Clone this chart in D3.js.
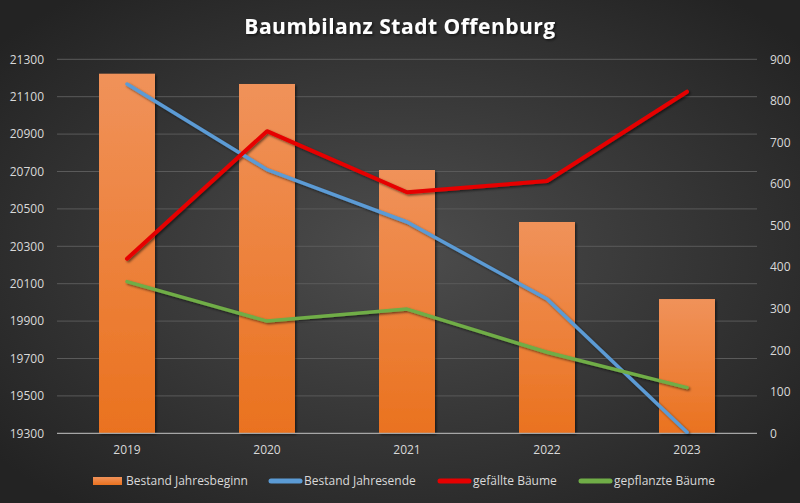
<!DOCTYPE html>
<html><head><meta charset="utf-8">
<script src="https://cdn.jsdelivr.net/npm/d3@7"></script>
<style>html,body{margin:0;padding:0;background:#2a2a2a;}svg{display:block;}</style>
</head><body>
<svg id="c" width="800" height="503"></svg>
<script>
const title = "Baumbilanz Stadt Offenburg";
const years = ["2019","2020","2021","2022","2023"];
const bestandBeginn = [21223, 21168, 20708, 20430, 20018];
const bestandEnde = [21168, 20710, 20430, 20018, 19306];
const gefaellt = [420, 727, 580, 607, 822];
const gepflanzt = [365, 270, 299, 195, 110];
const leftTicks = [19300,19500,19700,19900,20100,20300,20500,20700,20900,21100,21300];
const rightTicks = [0,100,200,300,400,500,600,700,800,900];
const legendLabels = ["Bestand Jahresbeginn","Bestand Jahresende","gefällte Bäume","gepflanzte Bäume"];

const W=800,H=503;
const m={l:57,r:43,t:59.3,b:69.7};
const svg=d3.select("#c");
const defs=svg.append("defs");
const bg=defs.append("radialGradient").attr("id","bg").attr("cx","50%").attr("cy","50%").attr("r","65%");
bg.append("stop").attr("offset","0%").attr("stop-color","#4d4d4d");
bg.append("stop").attr("offset","100%").attr("stop-color","#232323");
const bar=defs.append("linearGradient").attr("id","bar").attr("x1",0).attr("y1",0).attr("x2",0).attr("y2",1);
bar.append("stop").attr("offset","0%").attr("stop-color","#f0925a");
bar.append("stop").attr("offset","100%").attr("stop-color","#ea721f");
const sh=defs.append("filter").attr("id","sh").attr("x","-20%").attr("y","-20%").attr("width","140%").attr("height","140%");
sh.append("feDropShadow").attr("dx",1.5).attr("dy",1.5).attr("stdDeviation",1.2).attr("flood-color","#000").attr("flood-opacity",0.55);

svg.append("rect").attr("width",W).attr("height",H).attr("fill","url(#bg)");

const x=d3.scaleBand().domain(years).range([m.l,W-m.r]).paddingInner(0.6).paddingOuter(0.3);
const xc=d=>x(d)+x.bandwidth()/2;
const yL=d3.scaleLinear().domain([19300,21300]).range([H-m.b,m.t]);
const yR=d3.scaleLinear().domain([0,900]).range([H-m.b,m.t]);

// grid
svg.append("g").selectAll("line").data(leftTicks.slice(1)).join("line")
 .attr("x1",m.l).attr("x2",W-m.r).attr("y1",d=>yL(d)).attr("y2",d=>yL(d))
 .attr("stroke","#5a5a5a").attr("stroke-width",1);

// bars
svg.append("g").attr("filter","url(#sh)").selectAll("rect").data(years).join("rect")
 .attr("x",d=>x(d)).attr("width",x.bandwidth())
 .attr("y",(d,i)=>yL(bestandBeginn[i])).attr("height",(d,i)=>yL(19300)-yL(bestandBeginn[i]))
 .attr("fill","url(#bar)");

// axis line
svg.append("line").attr("x1",m.l).attr("x2",W-m.r).attr("y1",yL(19300)).attr("y2",yL(19300))
 .attr("stroke","#a6a6a6").attr("stroke-width",1.3);

// axes via d3
const font="'Open Sans', 'Liberation Sans', sans-serif";
const la=svg.append("g").attr("transform",`translate(${m.l-13},0)`)
 .call(d3.axisLeft(yL).tickValues(leftTicks).tickSize(0).tickPadding(0).tickFormat(d3.format("d")));
const ra=svg.append("g").attr("transform",`translate(${W-m.r+13},0)`)
 .call(d3.axisRight(yR).tickValues(rightTicks).tickSize(0).tickPadding(0).tickFormat(d3.format("d")));
const xa=svg.append("g").attr("transform",`translate(0,${yL(19300)+10})`)
 .call(d3.axisBottom(x).tickSize(0).tickPadding(0));
[la,ra,xa].forEach(g=>{g.select(".domain").remove();
 g.selectAll("text").attr("fill","#d9d9d9").style("font-family",font).style("font-size","12px");});
xa.selectAll("text").attr("dy","0.9em");

// lines
const mk=(ys,sc)=>d3.line().x((d,i)=>xc(years[i])).y(d=>sc(d))(ys);
const lg=svg.append("g").attr("filter","url(#sh)").attr("fill","none").attr("stroke-linejoin","round").attr("stroke-linecap","round");
lg.append("path").attr("d",mk(bestandEnde,yL)).attr("stroke","#5b9bd5").attr("stroke-width",3.5);
lg.append("path").attr("d",mk(gefaellt,yR)).attr("stroke","#e60000").attr("stroke-width",4);
lg.append("path").attr("d",mk(gepflanzt,yR)).attr("stroke","#70ad47").attr("stroke-width",3.5);

// title
svg.append("text").attr("x",400).attr("y",34).attr("text-anchor","middle")
 .attr("fill","#ffffff").attr("filter","url(#sh)")
 .style("font-family",font).style("font-weight","bold").style("font-size","21px").style("letter-spacing","0.5px")
 .text(title);

// legend
const legX=[93,269,438,579];
const colors=["#ef8134","#5b9bd5","#e60000","#70ad47"];
const leg=svg.append("g");
legendLabels.forEach((t,i)=>{
 const g=leg.append("g");
 if(i===0){
  g.append("rect").attr("x",legX[i]).attr("y",477).attr("width",29).attr("height",8).attr("fill","url(#bar)");
 } else {
  g.append("line").attr("x1",legX[i]+2).attr("x2",legX[i]+31).attr("y1",481).attr("y2",481)
   .attr("stroke",colors[i]).attr("stroke-width",5).attr("stroke-linecap","round");
 }
 g.append("text").attr("x",legX[i]+(i===0?33:35)).attr("y",481).attr("dy","0.35em")
  .attr("fill","#d9d9d9").style("font-family",font).style("font-size","12px").text(t);
});
</script>
</body></html>
